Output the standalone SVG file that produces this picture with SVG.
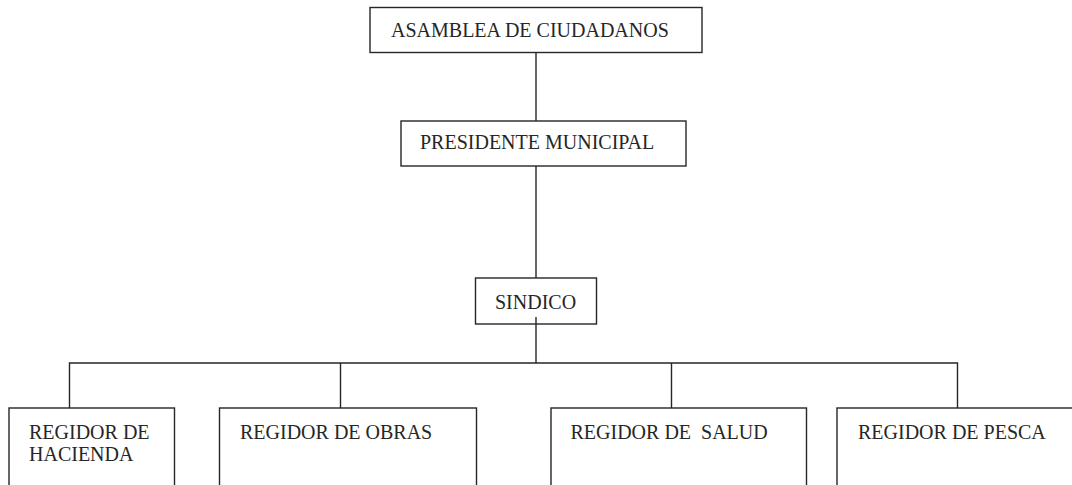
<svg xmlns="http://www.w3.org/2000/svg" width="1072" height="485" viewBox="0 0 1072 485">
<style>
.box{fill:#fff;stroke:#262626;stroke-width:1.4}
.ln{fill:none;stroke:#262626;stroke-width:1.4}
text{font-family:"Liberation Serif","Times New Roman",serif;font-size:20px;fill:#262626;white-space:pre}
</style>
<rect width="1072" height="485" fill="#fff"/>
<g id="connectors">
<line class="ln" x1="536" y1="52" x2="536" y2="121"/>
<line class="ln" x1="536" y1="166" x2="536" y2="278"/>
<line class="ln" x1="536" y1="317" x2="536" y2="363"/>
<polyline class="ln" points="69.5,408 69.5,363 957.5,363 957.5,408"/>
<line class="ln" x1="340.5" y1="363" x2="340.5" y2="408"/>
<line class="ln" x1="671.5" y1="363" x2="671.5" y2="408"/>
</g>
<g id="asamblea">
<rect class="box" x="370" y="7.5" width="332" height="45"/>
<text x="391" y="36.5">ASAMBLEA DE CIUDADANOS</text>
</g>
<g id="presidente">
<rect class="box" x="401" y="121" width="285" height="45"/>
<text x="420" y="148.5">PRESIDENTE MUNICIPAL</text>
</g>
<g id="sindico">
<rect class="box" x="475.5" y="278" width="121" height="46"/>
<text x="495" y="308.5">SINDICO</text>
</g>
<line class="ln" x1="536" y1="317" x2="536" y2="324"/>
<g id="hacienda">
<rect class="box" x="9" y="408" width="165.5" height="90"/>
<text x="29" y="438.5">REGIDOR DE</text>
<text x="29" y="460.5">HACIENDA</text>
</g>
<g id="obras">
<rect class="box" x="219.5" y="408" width="257" height="90"/>
<text x="240" y="438.5">REGIDOR DE OBRAS</text>
</g>
<g id="salud">
<rect class="box" x="551" y="408" width="255.5" height="90"/>
<text x="570.5" y="438.5">REGIDOR DE  SALUD</text>
</g>
<g id="pesca">
<rect class="box" x="837" y="408" width="250" height="90"/>
<text x="858" y="438.5">REGIDOR DE PESCA</text>
</g>
</svg>
